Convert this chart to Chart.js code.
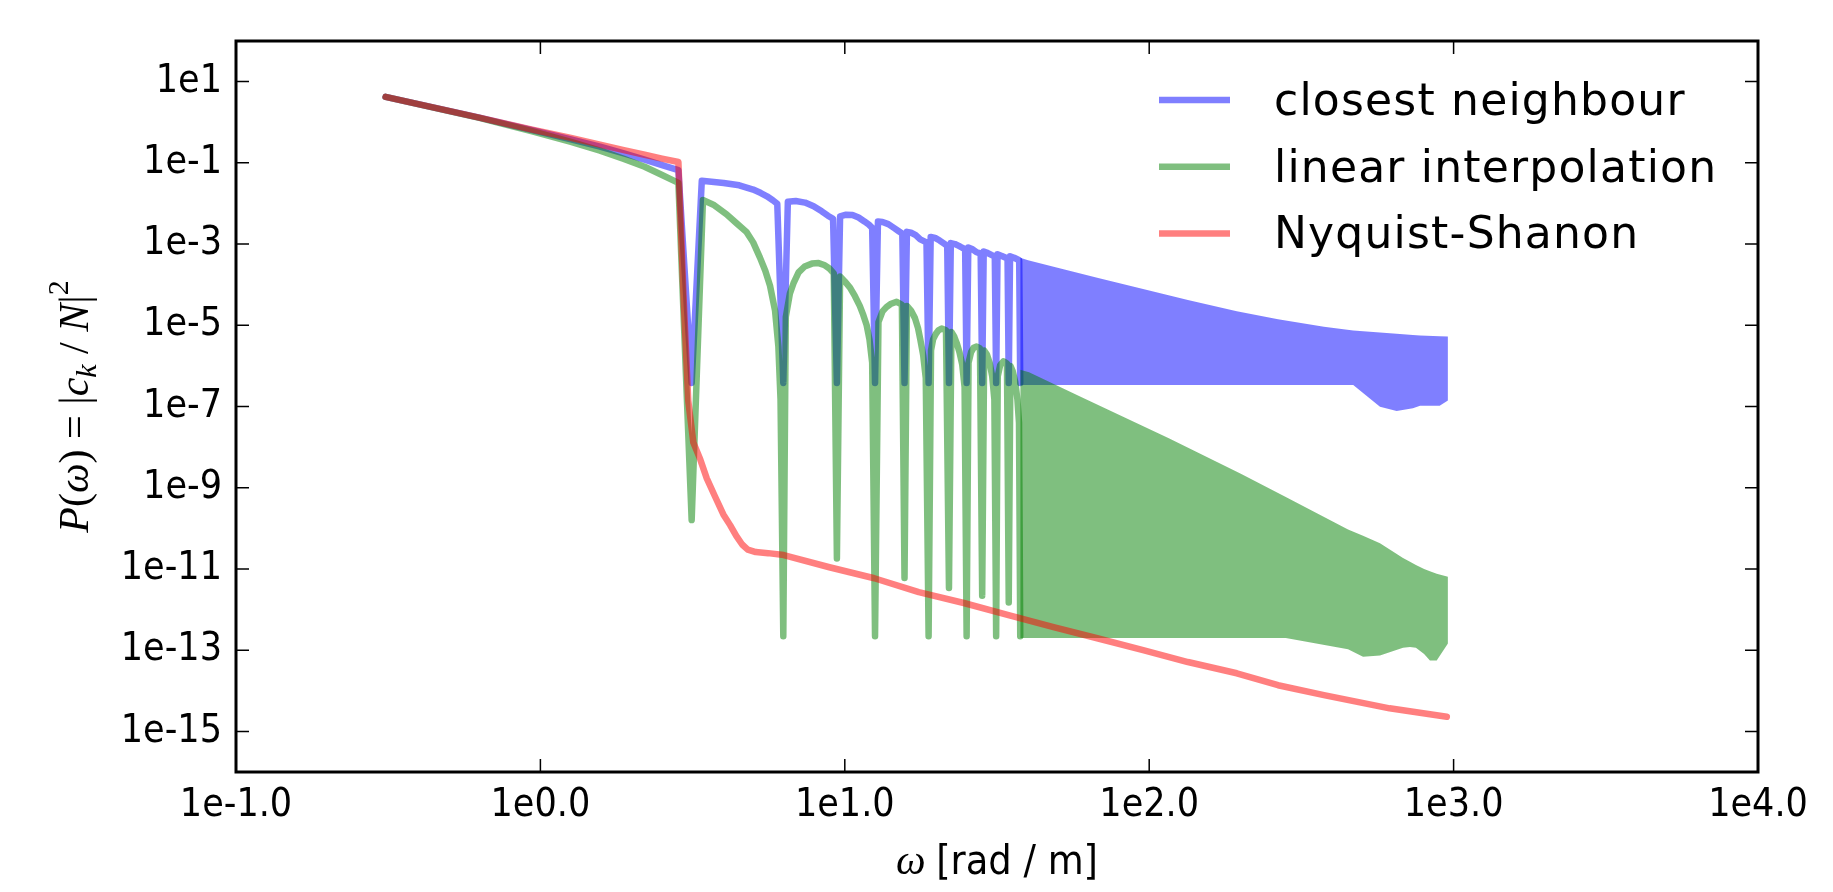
<!DOCTYPE html>
<html>
<head>
<meta charset="utf-8">
<script src="https://cdn.jsdelivr.net/npm/chart.js@4.4.1/dist/chart.umd.min.js"></script>
<style>
  html, body { margin: 0; padding: 0; background: #fff; }
  canvas { display: block; }
</style>
</head>
<body>
<canvas id="spectrum" width="1833" height="892"></canvas>
<script>
// axis ticks
var xTickValues = [1e-1, 1e0, 1e1, 1e2, 1e3, 1e4];
var xTickLabels = ["1e-1.0", "1e0.0", "1e1.0", "1e2.0", "1e3.0", "1e4.0"];
var yTickValues = [1e1, 1e-1, 1e-3, 1e-5, 1e-7, 1e-9, 1e-11, 1e-13, 1e-15];
var yTickLabels = ["1e1", "1e-1", "1e-3", "1e-5", "1e-7", "1e-9", "1e-11", "1e-13", "1e-15"];

var seriesNames = ["closest neighbour", "linear interpolation", "Nyquist-Shanon"];

// closest neighbour: separate lobes up to 12 pi
var closestOmega = [0.31, 0.63, 0.94, 1.26, 1.57, 1.88, 2.2, 2.51, 2.84,
  3.14, 3.39, 4.0, 4.5, 5.0, 5.3, 5.55, 5.8, 6.0,
  6.28, 6.5, 6.9, 7.4, 7.9, 8.4, 8.8, 9.15,
  9.42, 9.65, 10.1, 10.6, 11.1, 11.6, 12.0, 12.3,
  12.57, 12.85, 13.3, 13.9, 14.5, 15.0, 15.45,
  15.71, 16.0, 16.5, 17.1, 17.7, 18.55,
  18.85, 19.15, 19.8, 20.5, 21.2, 21.7,
  21.99, 22.3, 23.0, 23.7, 24.3, 24.85,
  25.13, 25.45, 26.3, 27.0, 27.95,
  28.27, 28.6, 29.5, 30.3, 31.1,
  31.42, 31.75, 32.8, 34.25,
  34.56, 34.9, 36.0, 37.4,
  37.7];
var closestPower = [4.2, 1.3, 0.64, 0.38, 0.25, 0.17, 0.12, 0.088, 0.066,
  3.8e-7, 0.036, 0.032, 0.028, 0.022, 0.018, 0.015, 0.012, 0.0098,
  3.8e-7, 0.011, 0.0115, 0.0105, 0.0085, 0.0064, 0.005, 0.0042,
  3.8e-7, 0.0048, 0.0053, 0.0052, 0.0045, 0.0036, 0.003, 0.0025,
  3.8e-7, 0.0036, 0.0035, 0.0031, 0.0025, 0.0021, 0.0018,
  3.8e-7, 0.0020, 0.0019, 0.00165, 0.0013, 0.0011,
  3.8e-7, 0.0015, 0.00142, 0.00122, 0.00102, 0.0009,
  3.8e-7, 0.00106, 0.001, 0.0009, 0.00081, 0.00075,
  3.8e-7, 0.00082, 0.00074, 0.00064, 0.00058,
  3.8e-7, 0.00066, 0.0006, 0.00054, 0.00049,
  3.8e-7, 0.00056, 0.00051, 0.00044,
  3.8e-7, 0.0005, 0.00046, 0.0004,
  3.8e-7];

// closest neighbour: dense part, outer edges of the oscillation band
var closestBandOmega = [37.7, 40, 50, 68, 100, 134, 194, 265, 375, 468, 573, 650, 735, 776, 900, 958];
var closestBandTop = [4.6e-4, 4.0e-4, 2.6e-4, 1.45e-4, 7.2e-5, 4.2e-5, 2.2e-5, 1.4e-5, 9.2e-6, 7.4e-6, 6.6e-6, 6.2e-6, 5.8e-6, 5.6e-6, 5.4e-6, 5.3e-6];
var closestBandBottom = [3.4e-7, 3.4e-7, 3.4e-7, 3.4e-7, 3.4e-7, 3.4e-7, 3.4e-7, 3.4e-7, 3.4e-7, 3.4e-7, 9.8e-8, 7.8e-8, 9e-8, 1.05e-7, 1.05e-7, 1.4e-7];

// linear interpolation: separate arches up to 12 pi
var linearOmega = [0.31, 0.63, 0.94, 1.26, 1.57, 1.88, 2.2, 2.51, 2.84,
  3.14, 3.42, 3.7, 4.09, 4.4, 4.76, 5.0, 5.26, 5.48, 5.68, 5.9, 6.05, 6.15,
  6.28, 6.4, 6.6, 6.78, 7.05, 7.38, 7.8, 8.2, 8.6, 8.9, 9.2,
  9.42, 9.65, 10.0, 10.4, 10.8, 11.2, 11.5, 11.8, 12.05, 12.3,
  12.57, 12.9, 13.3, 13.7, 14.2, 14.8, 15.4,
  15.71, 16.0, 16.5, 17.0, 17.4, 17.7, 18.1, 18.45,
  18.85, 19.2, 19.5, 19.9, 20.3, 20.8, 21.5,
  21.99, 22.4, 22.9, 23.3, 23.8, 24.3, 24.75,
  25.13, 25.5, 26.0, 26.5, 27.1, 27.8,
  28.27, 28.7, 29.3, 29.9, 30.5, 31.0,
  31.42, 31.8, 32.4, 33.2, 34.1,
  34.56, 35.0, 35.6, 36.3, 36.9, 37.35,
  37.7];
var linearPower = [4.2, 1.28, 0.6, 0.33, 0.2, 0.125, 0.08, 0.05, 0.032,
  1.6e-10, 0.0121, 0.0093, 0.0054, 0.0033, 0.00196, 0.0011, 4.7e-4, 2.2e-4, 9.4e-5, 2.3e-5, 3e-6, 1.5e-7,
  2.2e-13, 1.6e-5, 6e-5, 1.07e-4, 2e-4, 2.8e-4, 3.3e-4, 3.4e-4, 3e-4, 2.5e-4, 1.9e-4,
  1.8e-11, 1.6e-4, 1.2e-4, 8.5e-5, 5.2e-5, 3e-5, 1.8e-5, 1e-5, 4.5e-6, 1.2e-6,
  2.2e-13, 1.2e-5, 2.2e-5, 2.8e-5, 3.4e-5, 3.8e-5, 3.2e-5,
  6e-12, 3e-5, 2.3e-5, 1.5e-5, 8.5e-6, 4.5e-6, 1.8e-6, 5e-7,
  2.2e-13, 2.4e-6, 4.5e-6, 6.1e-6, 7.5e-6, 8.3e-6, 7.5e-6,
  3.4e-12, 6.8e-6, 5.2e-6, 3.7e-6, 2.2e-6, 1.1e-6, 3e-7,
  2.2e-13, 1.2e-6, 2.2e-6, 2.8e-6, 3.0e-6, 2.7e-6,
  2.2e-12, 2.4e-6, 1.9e-6, 1.2e-6, 5.5e-7, 1.5e-7,
  2.2e-13, 5.5e-7, 1.05e-6, 1.3e-6, 1.15e-6,
  1.5e-12, 1e-6, 7.5e-7, 4e-7, 1.5e-7, 4e-8,
  2.2e-13];

// linear interpolation: dense part
var linearBandOmega = [37.7, 40.3, 60, 116, 200, 281, 450, 504, 573, 682, 719, 752, 800, 836, 880, 958];
var linearBandTop = [8e-7, 7e-7, 1.7e-7, 1.66e-8, 2.2e-9, 5.9e-10, 9.4e-11, 6.6e-11, 4.3e-11, 1.85e-11, 1.5e-11, 1.25e-11, 1.0e-11, 8.8e-12, 7.6e-12, 6.4e-12];
var linearBandBottom = [2e-13, 2e-13, 2e-13, 2e-13, 2e-13, 2e-13, 1.05e-13, 6.9e-14, 7.4e-14, 1.15e-13, 1.2e-13, 1.15e-13, 8e-14, 5.6e-14, 5.6e-14, 1.45e-13];

// Nyquist-Shanon
var nyquistOmega = [0.31, 0.63, 0.94, 1.26, 1.57, 1.88, 2.2, 2.51, 2.84,
  2.95, 3.06, 3.18, 3.35, 3.52, 3.75, 3.99, 4.2, 4.4, 4.6, 4.8, 5.1, 5.6, 6.3,
  8.9, 12.5, 17.5, 24.6, 34.5, 48.5, 68, 95.5, 134, 194, 265, 375, 616, 950];
var nyquistPower = [4.2, 1.3, 0.66, 0.41, 0.28, 0.205, 0.158, 0.127, 0.105,
  6e-5, 1.4e-7, 1.3e-8, 5e-9, 1.7e-9, 6e-10, 2.2e-10, 1.2e-10, 6.5e-11, 4e-11, 3e-11, 2.6e-11, 2.45e-11, 2.2e-11,
  1.1e-11, 5.9e-12, 2.7e-12, 1.45e-12, 7.3e-13, 3.7e-13, 1.94e-13, 1.0e-13, 5.1e-14, 2.7e-14, 1.37e-14, 7.8e-15, 3.7e-15, 2.3e-15];

var blue = 'rgba(0, 0, 255, 0.5)';
var green = 'rgba(0, 128, 0, 0.5)';
var red = 'rgba(255, 0, 0, 0.5)';
var colors = [blue, green, red];

var tickFont = { family: '"DejaVu Sans Condensed", "DejaVu Sans"', size: 39 };

function points(xs, ys) {
  return xs.map(function (x, i) { return { x: x, y: ys[i] }; });
}

function curve(label, data, color, order) {
  return {
    label: label, data: data, showLine: true,
    borderColor: color, backgroundColor: color, borderWidth: 6.5,
    borderJoinStyle: 'round', borderCapStyle: 'round',
    pointRadius: 0, tension: 0, fill: false, order: order
  };
}

function band(data, color, order, fillTo) {
  return {
    data: data, showLine: true,
    borderColor: 'transparent', backgroundColor: color, borderWidth: 0,
    pointRadius: 0, tension: 0, fill: fillTo, order: order
  };
}

// frame, inward ticks, legend and axis titles
var decorations = {
  id: 'decorations',
  afterDraw: function (chart) {
    var c = chart.ctx, a = chart.chartArea;
    var xs = chart.scales.x, ys = chart.scales.y;
    c.save();
    c.strokeStyle = '#000';
    c.lineWidth = 1.5;
    c.beginPath();
    xTickValues.forEach(function (v) {
      var px = xs.getPixelForValue(v);
      c.moveTo(px, a.bottom); c.lineTo(px, a.bottom - 13);
      c.moveTo(px, a.top); c.lineTo(px, a.top + 13);
    });
    yTickValues.forEach(function (v) {
      var py = ys.getPixelForValue(v);
      c.moveTo(a.left, py); c.lineTo(a.left + 13, py);
      c.moveTo(a.right, py); c.lineTo(a.right - 13, py);
    });
    c.stroke();
    c.lineWidth = 3;
    c.strokeRect(a.left, a.top, a.right - a.left, a.bottom - a.top);

    // legend
    c.font = '44px "DejaVu Sans"';
    c.letterSpacing = '1.2px';
    c.fillStyle = '#000';
    c.textAlign = 'left';
    c.textBaseline = 'alphabetic';
    c.lineCap = 'butt';
    c.lineWidth = 6.5;
    seriesNames.forEach(function (name, i) {
      var y = a.top + 59 + i * 66.7;
      c.strokeStyle = colors[i];
      c.beginPath();
      c.moveTo(a.right - 599, y);
      c.lineTo(a.right - 528, y);
      c.stroke();
      c.fillText(name, a.right - 484, y + 15);
    });
    c.letterSpacing = '0px';

    // x title: omega [rad / m]
    var mathFont = 'italic 42px "Liberation Serif"';
    var sansFont = '41px "DejaVu Sans Condensed", "DejaVu Sans"';
    c.font = mathFont;
    var w1 = c.measureText('ω ').width;
    c.font = sansFont;
    var w2 = c.measureText('[rad / m]').width;
    var x0 = (a.left + a.right) / 2 - (w1 + w2) / 2;
    c.font = mathFont;
    c.fillText('ω', x0, 874);
    c.font = sansFont;
    c.fillText('[rad / m]', x0 + w1, 874);

    // y title: P(omega) = |c_k / N|^2, rotated
    var parts = [
      ['P', true, 0], ['(', false, 0], ['ω', true, 0], [')', false, 0],
      [' = ', false, 0], ['|', false, 0], ['c', true, 0], ['k', true, 1],
      [' / ', false, 0], ['N', true, 0], ['|', false, 0], ['2', false, -1]
    ];
    function partFont(p) {
      var size = p[2] === 0 ? 42 : 30;
      return (p[1] ? 'italic ' : '') + size + 'px "Liberation Serif"';
    }
    var total = 0;
    parts.forEach(function (p) { c.font = partFont(p); total += c.measureText(p[0]).width; });
    c.translate(88, (a.top + a.bottom) / 2);
    c.rotate(-Math.PI / 2);
    var px = -total / 2;
    parts.forEach(function (p) {
      c.font = partFont(p);
      var dy = p[2] === 1 ? 8 : (p[2] === -1 ? -20 : 0);
      c.fillText(p[0], px, dy);
      px += c.measureText(p[0]).width;
    });
    c.restore();
  }
};

var ctx = document.getElementById('spectrum').getContext('2d');
var chart = new Chart(ctx, {
  type: 'scatter',
  data: {
    datasets: [
      curve(seriesNames[0], points(closestOmega, closestPower), blue, 3),
      band(points(closestBandOmega, closestBandTop), blue, 3, '+1'),
      band(points(closestBandOmega, closestBandBottom), blue, 3, false),
      curve(seriesNames[1], points(linearOmega, linearPower), green, 2),
      band(points(linearBandOmega, linearBandTop), green, 2, '+1'),
      band(points(linearBandOmega, linearBandBottom), green, 2, false),
      curve(seriesNames[2], points(nyquistOmega, nyquistPower), red, 1)
    ]
  },
  options: {
    responsive: false,
    animation: false,
    layout: { padding: { left: 0, right: 75, top: 41, bottom: 0 } },
    plugins: {
      legend: { display: false },
      tooltip: { enabled: false }
    },
    scales: {
      x: {
        type: 'logarithmic',
        min: 1e-1,
        max: 1e4,
        afterFit: function (scale) { scale.height = 120; },
        afterBuildTicks: function (scale) {
          scale.ticks = xTickValues.map(function (v) { return { value: v }; });
        },
        ticks: {
          font: tickFont, color: '#000', padding: 10,
          autoSkip: false, maxRotation: 0, minRotation: 0,
          callback: function (value, index) { return xTickLabels[index]; }
        },
        grid: { display: false, drawTicks: false, tickLength: 0 },
        border: { display: false }
      },
      y: {
        type: 'logarithmic',
        min: 1e-16,
        max: 1e2,
        afterFit: function (scale) { scale.width = 236; },
        afterBuildTicks: function (scale) {
          scale.ticks = yTickValues.map(function (v) { return { value: v }; });
        },
        ticks: {
          font: tickFont, color: '#000', padding: 14, autoSkip: false,
          callback: function (value, index) { return yTickLabels[index]; }
        },
        grid: { display: false, drawTicks: false, tickLength: 0 },
        border: { display: false }
      }
    }
  },
  plugins: [decorations]
});
</script>
</body>
</html>
